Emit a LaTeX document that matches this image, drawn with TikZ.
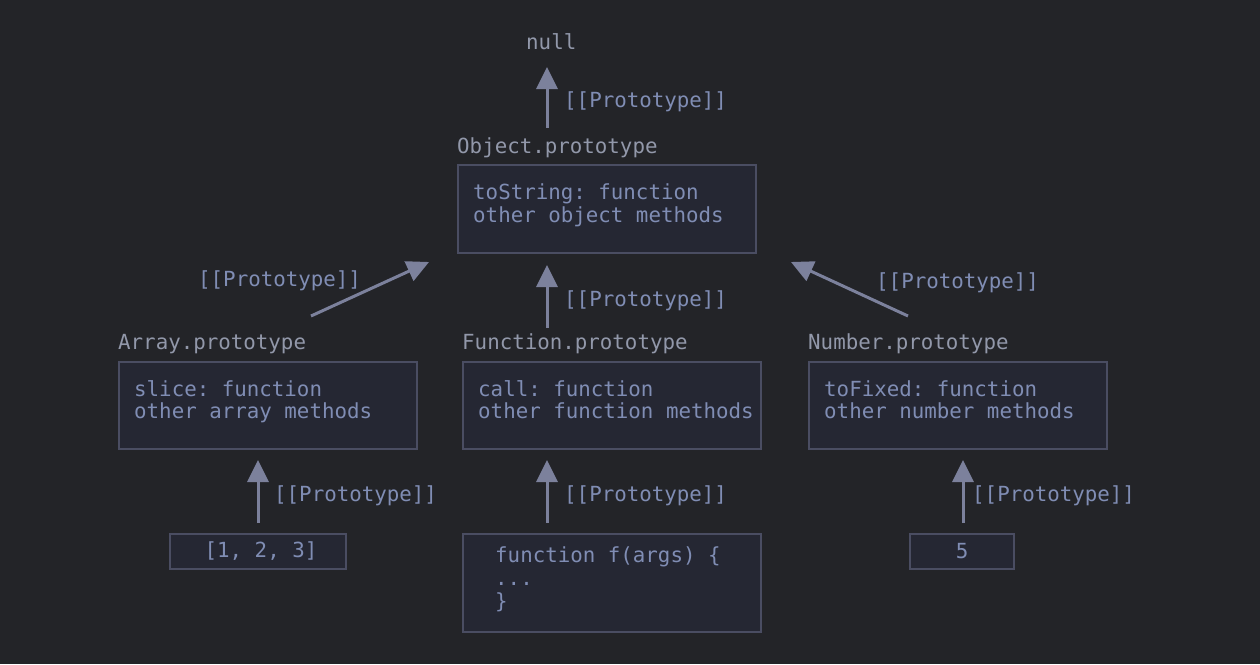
\documentclass[tikz,border=0pt]{standalone}
\usepackage{fontspec}
\setmonofont{DejaVu Sans Mono}
\usetikzlibrary{arrows.meta}
\definecolor{bg}{RGB}{35,36,40}
\definecolor{boxfill}{RGB}{37,39,51}
\definecolor{boxline}{RGB}{74,77,98}
\definecolor{codetext}{RGB}{128,141,180}
\definecolor{nametext}{RGB}{146,152,170}
\definecolor{arrowcol}{RGB}{124,129,156}
\tikzset{
  code/.style={font=\ttfamily\fontsize{20.8}{23}\selectfont, text=codetext, inner sep=0pt},
  objname/.style={font=\ttfamily\fontsize{20.8}{23}\selectfont, text=nametext, inner sep=0pt, anchor=base west},
  objbox/.style={draw=boxline, fill=boxfill, line width=2pt, anchor=north west, inner sep=0pt},
  protoarrow/.style={draw=arrowcol, line width=3pt, -{Triangle[length=22pt,width=21pt]}},
  protolabel/.style={font=\ttfamily\fontsize{20.8}{23}\selectfont, text=codetext, inner sep=0pt, anchor=base west},
}
\begin{document}
\begin{tikzpicture}[x=1pt,y=-1pt]
\useasboundingbox[fill=bg] (0,0) rectangle (1260,664);

% null and Object.prototype
\node[objname] (null) at (526,49) {null};
\node[objname] (objname) at (457,153) {Object.prototype};
\node[objbox, minimum width=298, minimum height=88] (objbox) at (457,164) {};
\node[code, anchor=base west] (obj1) at (473,199) {toString: function};
\node[code, anchor=base west] (obj2) at (473,222) {other object methods};
\coordinate (objtail) at (547,128);
\coordinate (nulltip) at (547,67);
\draw[protoarrow] (objtail) -- (nulltip);
\node[protolabel] (l0) at (564,107) {[[Prototype]]};

% Array.prototype
\node[objname] (arrname) at (118,349) {Array.prototype};
\node[objbox, minimum width=298, minimum height=87] (arrbox) at (118,361) {};
\node[code, anchor=base west] (arr1) at (134,396) {slice: function};
\node[code, anchor=base west] (arr2) at (134,418) {other array methods};

% Function.prototype
\node[objname] (funname) at (462,349) {Function.prototype};
\node[objbox, minimum width=298, minimum height=87] (funbox) at (462,361) {};
\node[code, anchor=base west] (fun1) at (478,396) {call: function};
\node[code, anchor=base west] (fun2) at (478,418) {other function methods};

% Number.prototype
\node[objname] (numname) at (808,349) {Number.prototype};
\node[objbox, minimum width=298, minimum height=87] (numbox) at (808,361) {};
\node[code, anchor=base west] (num1) at (824,396) {toFixed: function};
\node[code, anchor=base west] (num2) at (824,418) {other number methods};

% links to Object.prototype
\coordinate (arrtail) at (311,316);
\coordinate (arrtip) at (429,262);
\draw[protoarrow] (arrtail) -- (arrtip);
\node[protolabel] (l1) at (198,286) {[[Prototype]]};

\coordinate (funtail) at (547,328);
\coordinate (funtip) at (547,265);
\draw[protoarrow] (funtail) -- (funtip);
\node[protolabel] (l2) at (564,306) {[[Prototype]]};

\coordinate (numtail) at (908,316);
\coordinate (numtip) at (791,262);
\draw[protoarrow] (numtail) -- (numtip);
\node[protolabel] (l3) at (876,288) {[[Prototype]]};

% instances
\node[objbox, minimum width=176, minimum height=35] (arrinst) at (169,533) {};
\node[code] (arrinsttxt) at (261,551) {[1, 2, 3]};
\node[objbox, minimum width=298, minimum height=98] (funinst) at (462,533) {};
\node[code, anchor=base west] (f1) at (495,562) {function f(args) \{};
\node[code, anchor=base west] (f2) at (495,585) {...};
\node[code, anchor=base west] (f3) at (495,608) {\}};
\node[objbox, minimum width=104, minimum height=35] (numinst) at (909,533) {};
\node[code] (numinsttxt) at (962,551) {5};

% links from instances
\coordinate (a1) at (258,523);
\coordinate (a1t) at (258,460);
\draw[protoarrow] (a1) -- (a1t);
\node[protolabel] (l4) at (274,501) {[[Prototype]]};
\coordinate (a2) at (547,523);
\coordinate (a2t) at (547,460);
\draw[protoarrow] (a2) -- (a2t);
\node[protolabel] (l5) at (564,501) {[[Prototype]]};
\coordinate (a3) at (963,523);
\coordinate (a3t) at (963,460);
\draw[protoarrow] (a3) -- (a3t);
\node[protolabel] (l6) at (972,501) {[[Prototype]]};
\end{tikzpicture}
\end{document}
